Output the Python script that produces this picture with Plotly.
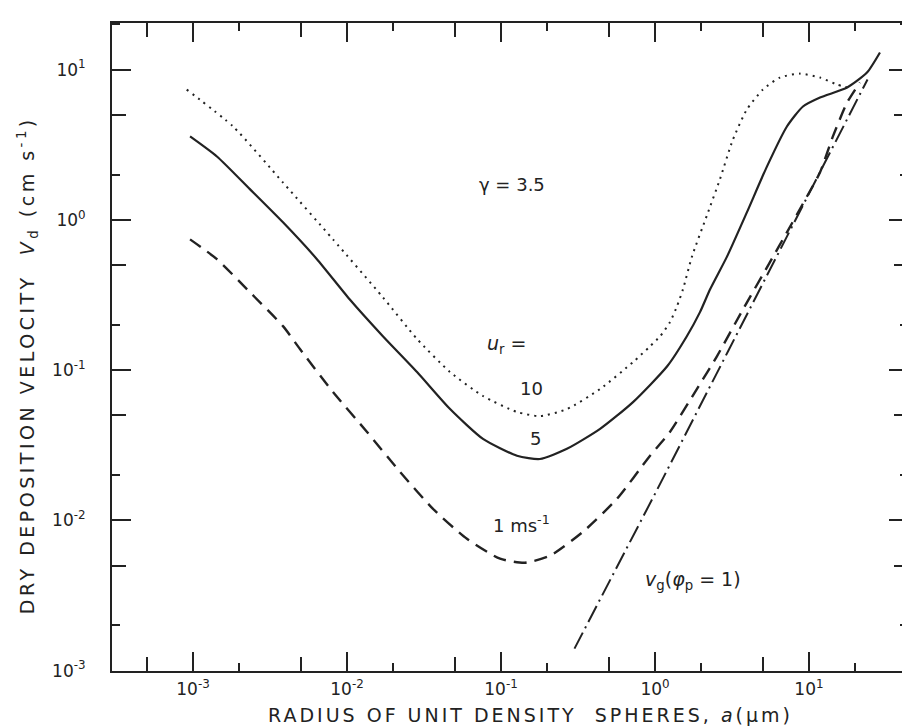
import plotly.graph_objects as go

# ---- data (radius a in µm, deposition velocity in cm/s) ----
a_u10 = [0.00091, 0.00182, 0.00384, 0.00811, 0.0171, 0.0285, 0.0467, 0.0764, 0.127, 0.179,
         0.268, 0.440, 0.720, 0.929, 1.08, 1.25, 1.39, 1.52, 1.74, 2.18, 2.64, 3.21, 3.95, 5.02,
         6.48, 8.74, 11.8, 15.2, 17.7]
v_u10 = [7.36, 4.18, 1.77, 0.741, 0.305, 0.161, 0.0970, 0.0672, 0.0526, 0.0494,
         0.0550, 0.0748, 0.113, 0.144, 0.168, 0.208, 0.266, 0.345, 0.571, 1.08, 1.86, 3.43, 5.42, 7.36,
         8.85, 9.40, 8.85, 7.95, 7.59]

a_u5 = [0.000957, 0.00143, 0.00234, 0.00384, 0.00638, 0.0104, 0.0171, 0.0285, 0.0467, 0.0764,
        0.127, 0.179, 0.268, 0.440, 0.720, 1.20, 1.61, 1.96, 2.28, 2.94, 3.95, 5.33, 7.19,
        9.14, 11.8, 17.7, 23.8, 28.9]
v_u5 = [3.59, 2.64, 1.60, 0.962, 0.547, 0.296, 0.168, 0.0970, 0.0550, 0.0348,
        0.0269, 0.0256, 0.0299, 0.0406, 0.0612, 0.106, 0.168, 0.243, 0.345, 0.571, 1.12, 2.26, 4.18,
        5.68, 6.52, 7.59, 9.55, 13.0]

a_u1 = [0.000957, 0.00143, 0.00234, 0.00384, 0.00495, 0.00811, 0.0135, 0.0221, 0.0362, 0.0601,
        0.0986, 0.143, 0.208, 0.341, 0.566, 0.929, 1.25, 1.87, 2.53, 3.73, 5.58, 7.19, 9.70,
        11.8, 14.3, 17.7, 21.4]
v_u1 = [0.741, 0.547, 0.330, 0.196, 0.138, 0.0714, 0.0387, 0.0210, 0.0119, 0.00753,
        0.00555, 0.00522, 0.00581, 0.00839, 0.0139, 0.0269, 0.0387, 0.0748, 0.124, 0.254, 0.523, 0.826, 1.43,
        2.07, 3.59, 6.04, 8.20]

a_vg = [0.30, 1.0, 3.0, 10.0, 24.0]
v_vg = [0.0014, 0.0150, 0.135, 1.50, 8.6]

major_vals = [1e-3, 1e-2, 1e-1, 1e0, 1e1]
major_text = ["10<sup>-3</sup>", "10<sup>-2</sup>", "10<sup>-1</sup>", "10<sup>0</sup>", "10<sup>1</sup>"]
minor2_x = [2e-4, 2e-3, 2e-2, 2e-1, 2e0, 2e1]
minor5_x = [5e-4, 5e-3, 5e-2, 5e-1, 5e0, 5e1]
minor2_y = [2e-3, 2e-2, 2e-1, 2e0, 2e1]
minor5_y = [5e-3, 5e-2, 5e-1, 5e0]

INK = "#222222"
FONT = "DejaVu Sans"

fig = go.Figure()
fig.add_trace(go.Scatter(x=a_u10, y=v_u10, mode="lines", line=dict(color=INK, width=2, dash="2px,5px", shape="spline", smoothing=0.6), name="10", showlegend=False))
fig.add_trace(go.Scatter(x=a_u5, y=v_u5, mode="lines", line=dict(color=INK, width=2.2, shape="spline", smoothing=0.6), name="5", showlegend=False))
fig.add_trace(go.Scatter(x=a_u1, y=v_u1, mode="lines", line=dict(color=INK, width=2.4, dash="13px,8px", shape="spline", smoothing=0.6), name="1", showlegend=False))
fig.add_trace(go.Scatter(x=a_vg, y=v_vg, mode="lines", line=dict(color=INK, width=2, dash="18px,5px,2px,5px"), name="vg", showlegend=False, xaxis="x2", yaxis="y2"))

xr = [-3.526, 1.643]
yr = [-3.003, 1.31]

common = dict(type="log", showgrid=False, zeroline=False, ticks="inside", tickcolor=INK,
              tickwidth=1.6, mirror="ticks", automargin=False)

# page body has an 8px margin; the figure is sized so that it fills the window
fig.update_layout(
    width=902, height=720,
    margin=dict(l=104, r=2, t=15, b=57),
    paper_bgcolor="white", plot_bgcolor="white",
    font=dict(family=FONT, color=INK, size=17),
    xaxis=dict(**common, range=xr, tickvals=major_vals, ticktext=major_text, ticklen=19,
               showline=True, linecolor=INK, linewidth=2,
               minor=dict(tickvals=minor2_x, ticklen=8, ticks="inside", tickcolor=INK, tickwidth=1.6),
               tickfont=dict(size=17, family=FONT, color=INK), ticklabelstandoff=2),
    yaxis=dict(**common, range=yr, tickvals=major_vals, ticktext=major_text, ticklen=19,
               showline=True, linecolor=INK, linewidth=2,
               minor=dict(tickvals=minor2_y, ticklen=8, ticks="inside", tickcolor=INK, tickwidth=1.6),
               tickfont=dict(size=17, family=FONT, color=INK), ticklabelstandoff=21),
    xaxis2=dict(**common, range=xr, overlaying="x", anchor="y2", tickvals=minor5_x, ticklen=14,
                showticklabels=False, showline=False),
    yaxis2=dict(**common, range=yr, overlaying="y", anchor="x2", tickvals=minor5_y, ticklen=14,
                showticklabels=False, showline=False),
    showlegend=False,
)

ann_font = dict(family=FONT, color=INK, size=18)
fig.add_annotation(x=-0.929, y=0.236, xref="x", yref="y", text="γ = 3.5", showarrow=False, font=ann_font)
fig.add_annotation(x=-0.962, y=-0.830, xref="x", yref="y", text="<i>u</i><sub>r</sub> =", showarrow=False, font=dict(family=FONT, color=INK, size=19))
fig.add_annotation(x=-0.799, y=-1.120, xref="x", yref="y", text="10", showarrow=False, font=ann_font)
fig.add_annotation(x=-0.773, y=-1.458, xref="x", yref="y", text="5", showarrow=False, font=ann_font)
fig.add_annotation(x=-0.870, y=-2.023, xref="x", yref="y", text="1 ms<sup>-1</sup>", showarrow=False, font=ann_font)
fig.add_annotation(x=0.247, y=-2.40, xref="x", yref="y", text="<i>v</i><sub>g</sub>(<i>φ</i><sub>p</sub> = 1)", showarrow=False, font=dict(family=FONT, color=INK, size=19))

fig.add_annotation(x=0.526, y=-0.068, xref="paper", yref="paper", xanchor="center", yanchor="middle",
                   text="<span style='letter-spacing:3px'>RADIUS OF UNIT DENSITY\u00a0 SPHERES, <i>a</i>(µm)</span>",
                   showarrow=False, font=dict(family=FONT, color=INK, size=19))
fig.add_annotation(x=-0.1068, y=0.472, xref="paper", yref="paper", textangle=-90, xanchor="center", yanchor="middle",
                   text="<span style='letter-spacing:3.5px'>DRY DEPOSITION VELOCITY\u00a0 <i>V</i><sub>d</sub> (cm s<sup>-1</sup>)</span>",
                   showarrow=False, font=dict(family=FONT, color=INK, size=19))

fig.write_html("out.html")
